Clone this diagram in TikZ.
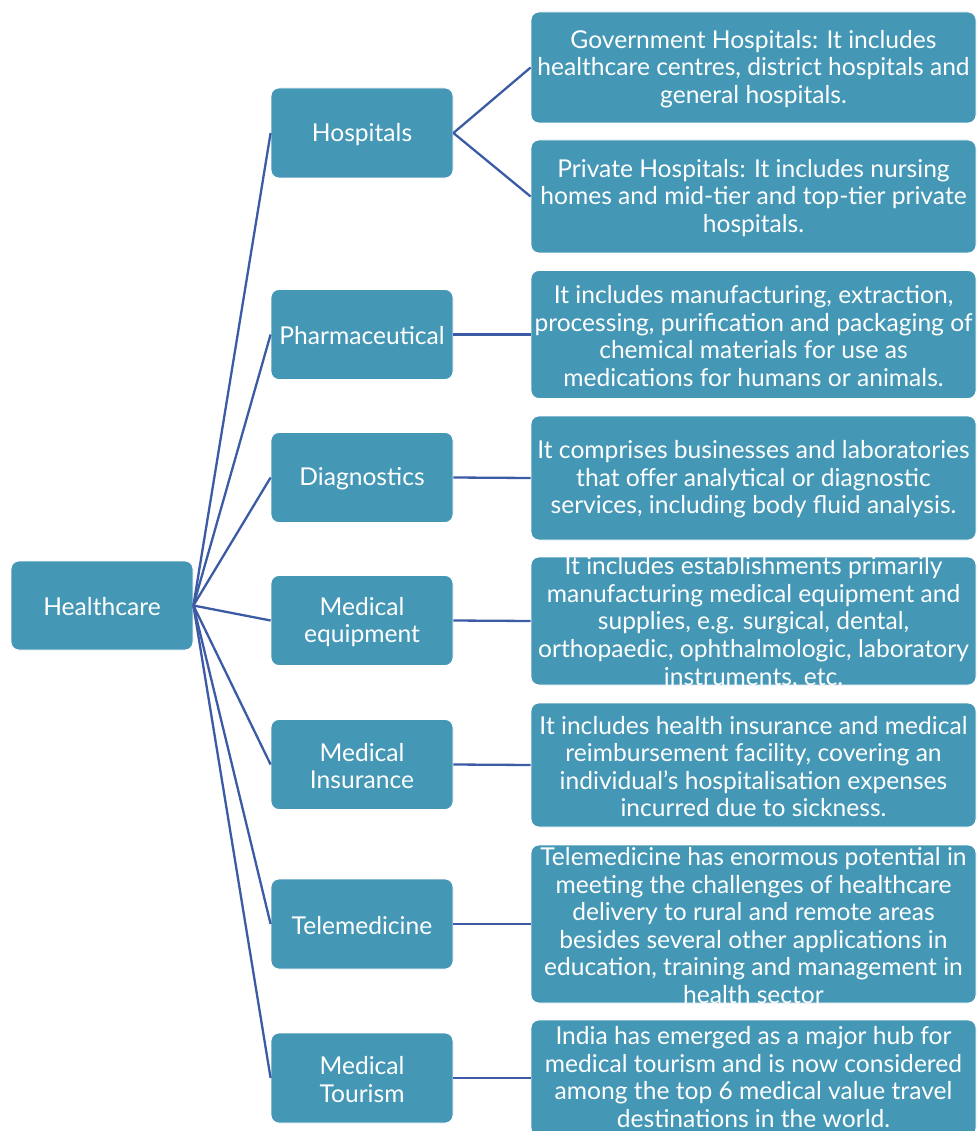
\documentclass[tikz,border=0pt]{standalone}
\usepackage{fontspec}
\setmainfont{Lato}
\definecolor{boxc}{HTML}{4497B5}
\definecolor{linec}{HTML}{3B5BA5}
\begin{document}
\begin{tikzpicture}[x=1pt,y=-1pt,
  boxst/.style={fill=boxc, draw=white, line width=0.8pt, rounded corners=8pt, inner sep=0pt},
  txt/.style={text=white, align=center, inner sep=0pt, yshift=-1.5pt, font=\fontsize{24.6}{27.6}\selectfont},
  conn/.style={draw=linec, line width=2.3pt},
  mid/.style={boxst, minimum width=182pt, minimum height=90pt},
  rgt/.style={boxst, minimum width=445pt}]
\fill[white] (0,0) rectangle (976,1131);
\useasboundingbox (0,0) rectangle (976,1131);
% left
\node[boxst, minimum width=182pt, minimum height=89pt] (hc) at (102,605.5) {};
\node[txt] (hct) at (hc.center) {Healthcare};
% middle
\node[mid] (hosp) at (362,133) {};
\node[mid] (pharm) at (362,334.5) {};
\node[mid] (diag) at (362,477.5) {};
\node[mid] (equip) at (362,620.5) {};
\node[mid] (ins) at (362,764.5) {};
\node[mid] (tele) at (362,924) {};
\node[mid] (tour) at (362,1078) {};
\node[txt] (hospt) at (hosp.center) {Hospitals};
\node[txt] (pharmt) at (pharm.center) {Pharmaceutical};
\node[txt] (diagt) at (diag.center) {Diagnostics};
\node[txt] (equipt) at (equip.center) {Medical\\equipment};
\node[txt] (inst) at (ins.center) {Medical\\Insurance};
\node[txt] (telet) at (tele.center) {Telemedicine};
\node[txt] (tourt) at (tour.center) {Medical\\Tourism};
% right
\node[rgt, minimum height=111pt] (gov) at (753.5,67.5) {};
\node[rgt, minimum height=113pt] (priv) at (753.5,196.5) {};
\node[rgt, minimum height=128pt] (pharmd) at (753.5,334.5) {};
\node[rgt, minimum height=124pt] (diagd) at (753.5,478) {};
\node[rgt, minimum height=128pt] (equipd) at (753.5,621) {};
\node[rgt, minimum height=124pt] (insd) at (753.5,765) {};
\node[rgt, minimum height=158pt] (teled) at (753.5,924) {};
\node[rgt, minimum height=116pt] (tourd) at (753.5,1078) {};
\node[txt] (govt) at (gov.center) {Government Hospitals: It includes\\healthcare centres, district hospitals and\\general hospitals.};
\node[txt] (privt) at (priv.center) {Private Hospitals: It includes nursing\\homes and mid-tier and top-tier private\\hospitals.};
\node[txt] (pharmdt) at (pharmd.center) {It includes manufacturing, extraction,\\processing, purification and packaging of\\chemical materials for use as\\medications for humans or animals.};
\node[txt] (diagdt) at (diagd.center) {It comprises businesses and laboratories\\that offer analytical or diagnostic\\services, including body fluid analysis.};
\node[txt] (equipdt) at (equipd.center) {It includes establishments primarily\\manufacturing medical equipment and\\supplies, e.g. surgical, dental,\\orthopaedic, ophthalmologic, laboratory\\instruments, etc.};
\node[txt] (insdt) at (insd.center) {It includes health insurance and medical\\reimbursement facility, covering an\\individual's hospitalisation expenses\\incurred due to sickness.};
\node[txt] (teledt) at (teled.center) {Telemedicine has enormous potential in\\meeting the challenges of healthcare\\delivery to rural and remote areas\\besides several other applications in\\education, training and management in\\health sector};
\node[txt, yshift=2.5pt] (tourdt) at (tourd.center) {India has emerged as a major hub for\\medical tourism and is now considered\\among the top 6 medical value travel\\destinations in the world.};
% connectors
\foreach \n in {hosp,pharm,diag,equip,ins,tele,tour}
  \draw[conn] (hc.east) -- (\n.west);
\draw[conn] (hosp.east) -- (gov.west);
\draw[conn] (hosp.east) -- (priv.west);
\draw[conn] (pharm.east) -- (pharmd.west);
\draw[conn] (diag.east) -- (diagd.west);
\draw[conn] (equip.east) -- (equipd.west);
\draw[conn] (ins.east) -- (insd.west);
\draw[conn] (tele.east) -- (teled.west);
\draw[conn] (tour.east) -- (tourd.west);
\end{tikzpicture}
\end{document}
